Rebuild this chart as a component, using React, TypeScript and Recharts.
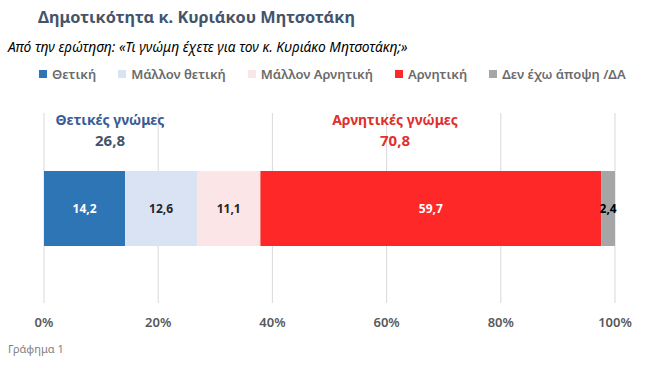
import { Bar, BarChart, CartesianGrid, LabelList, XAxis, YAxis } from "recharts";

const categories = ["Θετική", "Μάλλον θετική", "Μάλλον Αρνητική", "Αρνητική", "Δεν έχω άποψη /ΔΑ"];
const values = [14.2, 12.6, 11.1, 59.7, 2.4];
const colors = ["#2E75B6", "#DAE3F3", "#FBE5E6", "#FF2828", "#A6A6A6"];
const labelColors = ["#ffffff", "#262626", "#262626", "#ffffff", "#000000"];
const ticks = [0, 20, 40, 60, 80, 100];
const positiveTotal = 26.8;
const negativeTotal = 70.8;

const font = "'Noto Sans', 'Open Sans', sans-serif";

const row: Record<string, string | number> = { name: "Μητσοτάκης" };
categories.forEach((c, i) => {
  row["s" + i] = values[i];
});
const data = [row];

const comma = (v: number) => String(v).replace(".", ",");

export default function App() {
  return (
    <div style={{ position: "absolute", left: 0, top: 0, width: 651, height: 368, background: "#fff", fontFamily: font }}>
      <div style={{ position: "absolute", left: 38, top: 6, fontSize: 16.3, fontWeight: 700, color: "#44546A" }}>
        Δημοτικότητα κ. Κυριάκου Μητσοτάκη
      </div>
      <div style={{ position: "absolute", left: 8, top: 37, fontSize: 13.8, fontStyle: "italic", color: "#000" }}>
        Από την ερώτηση: «Τι γνώμη έχετε για τον κ. Κυριάκο Μητσοτάκη;»
      </div>
      <div style={{ position: "absolute", left: 39, top: 65, display: "flex", gap: 22, fontSize: 13, fontWeight: 600, color: "#6B6B6B" }}>
        {categories.map((c, i) => (
          <div key={c} style={{ display: "flex", alignItems: "center" }}>
            <span style={{ width: 8, height: 8, background: colors[i], marginRight: 5, display: "inline-block" }} />
            {c}
          </div>
        ))}
      </div>
      <div style={{ position: "absolute", left: 8, top: 341, fontSize: 11, color: "#7F7F7F" }}>Γράφημα 1</div>
      <BarChart
        width={651}
        height={368}
        data={data}
        layout="vertical"
        margin={{ top: 113, right: 36, bottom: 35, left: 44 }}
        style={{ position: "absolute", left: 0, top: 0 }}
      >
        <CartesianGrid horizontal={false} stroke="#D9D9D9" />
        <XAxis
          type="number"
          domain={[0, 100]}
          ticks={ticks}
          tickFormatter={(v: number) => `${v}%`}
          axisLine={false}
          tickLine={false}
          tickMargin={9}
          tick={{ fill: "#595959", fontSize: 13, fontWeight: 600, fontFamily: font }}
          interval={0}
        />
        <YAxis type="category" dataKey="name" hide />
        {categories.map((c, i) => (
          <Bar key={c} dataKey={"s" + i} name={c} stackId="a" fill={colors[i]} barSize={75} isAnimationActive={false}>
            <LabelList
              dataKey={"s" + i}
              position="center"
              formatter={(v: number) => comma(v)}
              fill={labelColors[i]}
              style={{ fontSize: 12, fontWeight: 700, fontFamily: font }}
            />
          </Bar>
        ))}
      </BarChart>
      <div style={{ position: "absolute", left: 50, top: 110, width: 120, textAlign: "center", fontSize: 14, fontWeight: 700, lineHeight: "20px" }}>
        <div style={{ color: "#3A5B95" }}>Θετικές γνώμες</div>
        <div style={{ color: "#44546A", fontSize: 15 }}>{comma(positiveTotal)}</div>
      </div>
      <div style={{ position: "absolute", left: 325, top: 110, width: 140, textAlign: "center", fontSize: 14, fontWeight: 700, lineHeight: "20px", color: "#E0302D" }}>
        <div>Αρνητικές γνώμες</div>
        <div style={{ fontSize: 15 }}>{comma(negativeTotal)}</div>
      </div>
    </div>
  );
}
